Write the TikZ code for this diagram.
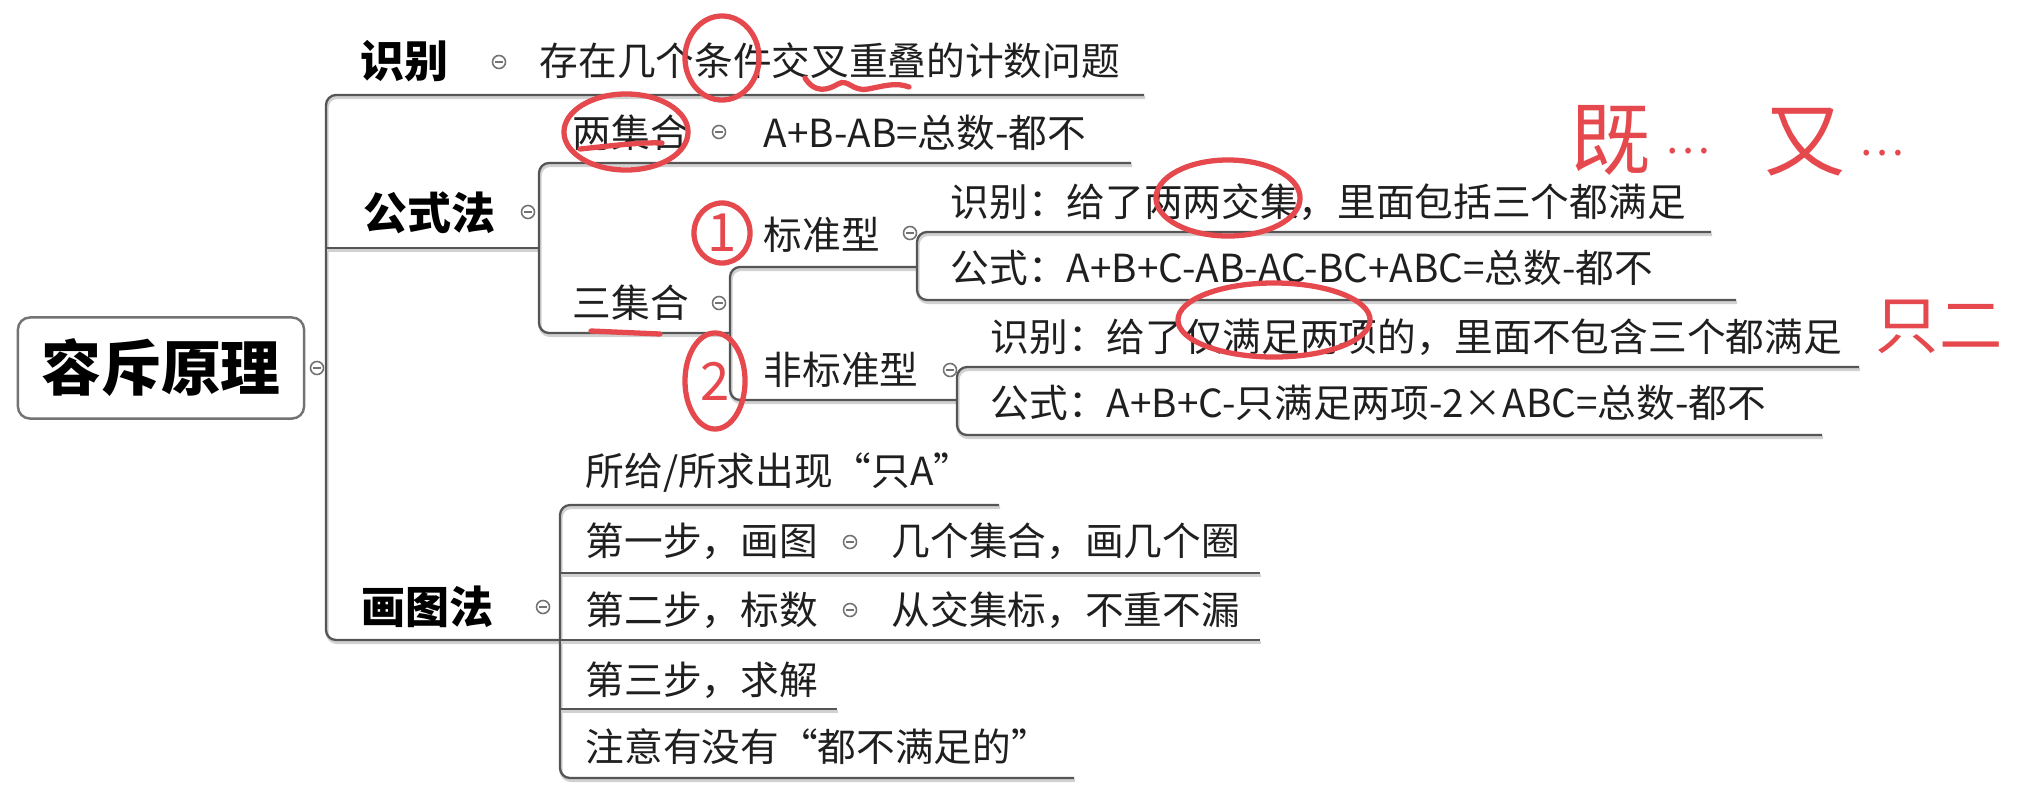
\documentclass[tikz,border=0pt]{standalone}
\usepackage{fontspec}
\setmainfont{Noto Sans CJK SC}
\usetikzlibrary{shapes.geometric}
\definecolor{lnc}{HTML}{555555}
\definecolor{pen}{HTML}{E5484D}

\begin{document}
\begin{tikzpicture}[x=0.01cm, y=-0.01cm,
  ln/.style={draw=lnc, line width=0.65pt, rounded corners=1mm,
    preaction={draw=black!18, line width=0.9pt, transform canvas={shift={(0.3pt,-0.7pt)}}}},
  rootbox/.style={draw=black!55, line width=0.7pt, rounded corners=1.2mm, fill=white,
    minimum width=2.86cm, minimum height=1.01cm, font=\fontsize{17}{20}\selectfont\bfseries},
  main/.style={anchor=west, inner sep=0pt, font=\fontsize{12.5}{15}\selectfont\bfseries},
  sub/.style={anchor=west, inner sep=0pt, text=black!88, font=\fontsize{11}{13}\selectfont},
  tog/.style={circle, draw=black!55, line width=0.45pt, inner sep=0pt, minimum size=1.3mm,
    path picture={\draw[black!55, line width=0.4pt]
      ([xshift=-0.4mm]path picture bounding box.center) -- ([xshift=0.4mm]path picture bounding box.center);}},
  pen/.style={draw=pen, line width=1.5pt, line cap=round},
  hand/.style={anchor=west, inner sep=0pt, text=pen, font=\fontsize{23}{26}\selectfont},
  num/.style={ellipse, draw=pen, line width=1.5pt, inner sep=0pt, text=pen, font=\fontsize{15}{16}\selectfont}
]
\useasboundingbox (0,0) rectangle (2022,803);

% root
\node[rootbox] (root) at (161,368) {容斥原理};
\node[tog] (t-root) at (317,368) {};

% underline points
\coordinate (sb-u) at (326,95);   \coordinate (sb-e) at (1144,95);
\coordinate (gf-u) at (326,248);  \coordinate (gf-e) at (539,248);
\coordinate (ht-u) at (326,640);  \coordinate (ht-e) at (560,640);
\coordinate (lj-u) at (539,163);  \coordinate (lj-e) at (1131,163);
\coordinate (sj-u) at (539,333);  \coordinate (sj-e) at (730,333);
\coordinate (bz-u) at (730,267);  \coordinate (bz-e) at (917,267);
\coordinate (fb-u) at (730,400);  \coordinate (fb-e) at (957,400);
\coordinate (bz1-u) at (917,232); \coordinate (bz1-e) at (1711,232);
\coordinate (bz2-u) at (917,300); \coordinate (bz2-e) at (1736,300);
\coordinate (fb1-u) at (957,367); \coordinate (fb1-e) at (1859,367);
\coordinate (fb2-u) at (957,435); \coordinate (fb2-e) at (1822,435);
\coordinate (h1-u) at (560,505);  \coordinate (h1-e) at (999,505);
\coordinate (h2-u) at (560,573);  \coordinate (h2-e) at (1260,573);
\coordinate (h3-u) at (560,640);  \coordinate (h3-e) at (1260,640);
\coordinate (h4-u) at (560,709);  \coordinate (h4-e) at (837,709);
\coordinate (h5-u) at (560,778);  \coordinate (h5-e) at (1074,778);

% branches
\draw[ln] (sb-e) -- (sb-u) -- (ht-u) -- (ht-e);
\draw[ln] (gf-u) -- (gf-e);
\draw[ln] (lj-e) -- (lj-u) -- (sj-u) -- (sj-e);
\draw[ln] (bz-e) -- (bz-u) -- (fb-u) -- (fb-e);
\draw[ln] (bz1-e) -- (bz1-u) -- (bz2-u) -- (bz2-e);
\draw[ln] (fb1-e) -- (fb1-u) -- (fb2-u) -- (fb2-e);
\draw[ln] (h1-e) -- (h1-u) -- (h5-u) -- (h5-e);
\draw[ln] (h2-u) -- (h2-e);
\draw[ln] (h3-u) -- (h3-e);
\draw[ln] (h4-u) -- (h4-e);

% 识别
\node[main] (sb) at (360,61) {识别};
\node[tog] (t-sb) at (499,62) {};
\node[sub] (sbx) at (539,61) {存在几个条件交叉重叠的计数问题};

% 公式法
\node[main] (gf) at (363,213) {公式法};
\node[tog] (t-gf) at (528,212) {};
\node[sub] (lj) at (572,133) {两集合};
\node[tog] (t-lj) at (719,132) {};
\node[sub] (ljx) at (763,133) {A+B-AB=总数-都不};
\node[sub] (sj) at (572,303) {三集合};
\node[tog] (t-sj) at (719,303) {};
\node[sub] (bz) at (763,235) {标准型};
\node[tog] (t-bz) at (910,233) {};
\node[sub] (bz1) at (950,202) {识别：给了两两交集，里面包括三个都满足};
\node[sub] (bz2) at (950,268) {公式：A+B+C-AB-AC-BC+ABC=总数-都不};
\node[sub] (fb) at (763,370) {非标准型};
\node[tog] (t-fb) at (950,370) {};
\node[sub] (fb1) at (990,337) {识别：给了仅满足两项的，里面不包含三个都满足};
\node[sub] (fb2) at (990,403) {公式：A+B+C-只满足两项-2×ABC=总数-都不};

% 画图法
\node[main] (ht) at (361,607) {画图法};
\node[tog] (t-ht) at (543,607) {};
\node[sub] (h1) at (585,473) {所给/所求出现“只A”};
\node[sub] (h2) at (585,541) {第一步，画图};
\node[tog] (t-h2) at (850,542) {};
\node[sub] (h2x) at (891,541) {几个集合，画几个圈};
\node[sub] (h3) at (585,610) {第二步，标数};
\node[tog] (t-h3) at (850,610) {};
\node[sub] (h3x) at (891,610) {从交集标，不重不漏};
\node[sub] (h4) at (585,680) {第三步，求解};
\node[sub] (h5) at (585,747) {注意有没有“都不满足的”};

% red marks
\draw[pen] (722,58) ellipse [x radius=0.37cm, y radius=0.42cm];
\draw[pen] (805,78) .. controls (815,94) and (828,90) .. (838,84)
  .. controls (848,78) and (852,92) .. (868,89) .. controls (884,86) and (896,82) .. (909,87);
\draw[pen] (626,132) ellipse [x radius=0.62cm, y radius=0.38cm];
\draw[pen] (580,149) .. controls (610,146) and (640,142) .. (662,143);
\draw[pen] (591,331) -- (660,334);
\draw[pen] (1228,198) ellipse [x radius=0.72cm, y radius=0.38cm];
\draw[pen] (1274,320) ellipse [x radius=0.96cm, y radius=0.37cm];
\node[num, minimum width=0.56cm, minimum height=0.6cm] (m1) at (722,233) {1};
\node[num, minimum width=0.6cm, minimum height=0.96cm] (m2) at (715,381) {2};
\node[hand] (n-ji) at (1570,140) {既\,\raisebox{0.15cm}{\fontsize{12}{12}\selectfont …}};
\node[hand] (n-you) at (1764,142) {又\,\raisebox{0.15cm}{\fontsize{12}{12}\selectfont …}};
\node[hand, font=\fontsize{18}{20}\selectfont] (n-zhi) at (1875,327) {只二};
\end{tikzpicture}
\end{document}
